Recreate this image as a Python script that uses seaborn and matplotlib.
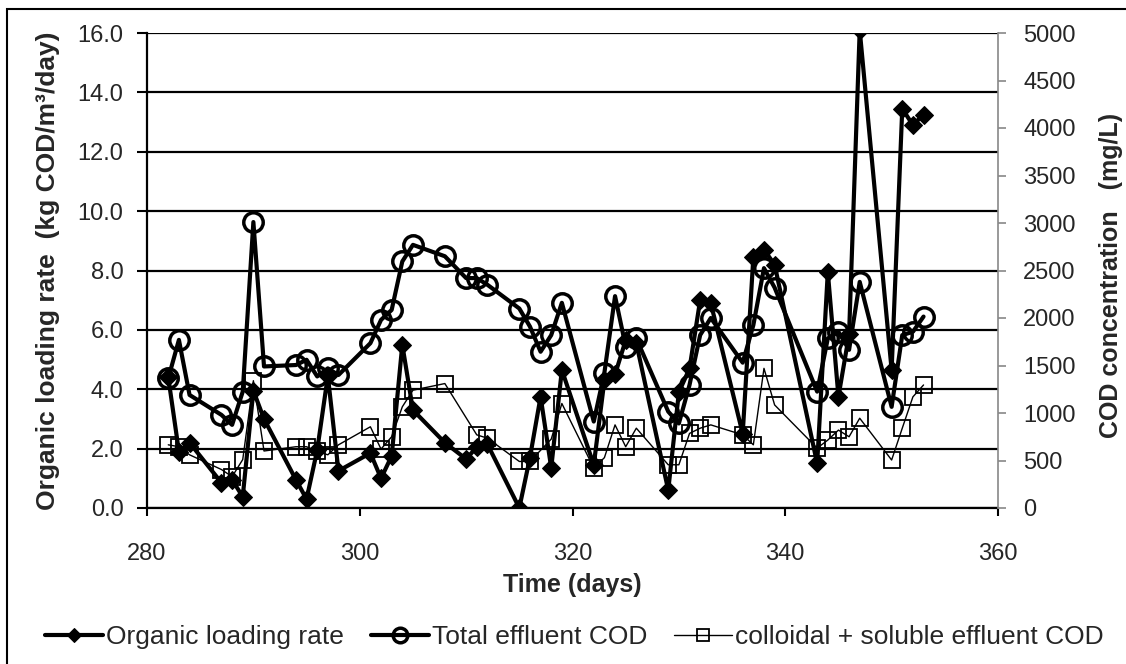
import matplotlib
matplotlib.use('Agg')
import matplotlib.pyplot as plt
import seaborn as sns
from matplotlib.patches import Rectangle

# data
days = [282, 283, 284, 287, 288, 289, 290, 291, 294, 295, 296, 297, 298, 301, 302,
        303, 304, 305, 308, 310, 311, 312, 315, 316, 317, 318, 319, 322, 323, 324,
        325, 326, 329, 330, 331, 332, 333, 336, 337, 338, 339, 343, 344, 345, 346,
        347, 350, 351, 352, 353]
olr = [4.4, 1.9, 2.2, 0.85, 0.95, 0.38, 3.95, 3.0, 0.95, 0.3, 1.95, 4.45, 1.25, 1.85, 1.0,
       1.75, 5.5, 3.3, 2.2, 1.65, 2.05, 2.15, 0.0, 1.7, 3.75, 1.35, 4.65, 1.45, 4.3, 4.5,
       5.65, 5.55, 0.6, 3.9, 4.7, 7.0, 6.9, 2.5, 8.45, 8.7, 8.2, 1.5, 7.95, 3.75, 5.85,
       16.1, 4.65, 13.45, 12.9, 13.25]
total_cod = [1365, 1770, 1190, 980, 875, 1225, 3010, 1490, 1505, 1560, 1385, 1470, 1400, 1735, 1980,
             2085, 2595, 2770, 2650, 2420, 2420, 2350, 2100, 1910, 1645, 1820, 2160, 910, 1425, 2230,
             1700, 1785, 1015, 890, 1295, 1820, 2000, 1530, 1925, 2525, 2320, 1225, 1785, 1855, 1665,
             2380, 1065, 1820, 1855, 2015]

sol_days = [282, 283, 284, 287, 288, 289, 290, 291, 294, 295, 296, 297, 298, 301, 302, 303,
            304, 305, 308, 311, 312, 315, 316, 318, 319, 322, 323, 324, 325, 326, 329, 330,
            331, 332, 333, 336, 337, 338, 339, 343, 344, 345, 346, 347, 350, 351, 352, 353]
sol_cod = [665, 645, 560, 405, 330, 510, 1340, 600, 645, 645, 595, 560, 665, 855, 620, 750,
           1065, 1240, 1310, 770, 735, 490, 490, 725, 1100, 420, 530, 875, 645, 840, 455, 455,
           785, 840, 875, 770, 665, 1470, 1085, 630, 715, 820, 750, 945, 505, 840, 1170, 1295]

left_ticks = [0, 2, 4, 6, 8, 10, 12, 14, 16]
right_ticks = [0, 500, 1000, 1500, 2000, 2500, 3000, 3500, 4000, 4500, 5000]
x_ticks = [280, 300, 320, 340, 360]

sns.set_style('white')
plt.rcParams['font.family'] = ['Liberation Sans', 'DejaVu Sans']

fig = plt.figure(figsize=(11.26, 6.64), dpi=100)
ax1 = fig.add_axes([147 / 1126, 1 - 508 / 664, 851 / 1126, 475 / 664])
ax2 = ax1.twinx()

sns.lineplot(x=days, y=olr, ax=ax1, color='black', lw=3, marker='D', markersize=9.5,
             mec='black', mfc='black', label='Organic loading rate')
sns.lineplot(x=days, y=total_cod, ax=ax2, color='black', lw=3, marker='o', markersize=14,
             mec='black', mfc='none', mew=2.5, label='Total effluent COD')
sns.lineplot(x=sol_days, y=sol_cod, ax=ax2, color='black', lw=1, marker='s', markersize=11,
             mec='black', mfc='none', mew=1.3, label='colloidal + soluble effluent COD')

ax1.set_xlim(280, 360)
ax1.set_ylim(0, 16)
ax2.set_ylim(0, 5000)
ax1.set_xticks(x_ticks)
ax1.set_yticks(left_ticks)
ax1.set_yticklabels([f'{v:.1f}' for v in left_ticks])
ax2.set_yticks(right_ticks)

ax1.yaxis.grid(True, color='black', lw=1.6)
ax1.set_axisbelow(True)

ax1.spines['top'].set_visible(False)
ax2.spines['top'].set_visible(False)
ax2.spines['left'].set_visible(False)
ax2.spines['bottom'].set_visible(False)
ax1.spines['right'].set_visible(False)
ax1.spines['left'].set_color('black')
ax1.spines['left'].set_linewidth(1.6)
ax1.spines['bottom'].set_color('black')
ax1.spines['bottom'].set_linewidth(1.6)
ax2.spines['right'].set_color('#888888')
ax2.spines['right'].set_linewidth(1.2)

ax1.tick_params(axis='y', direction='out', length=7, width=1.5, color='black',
                labelsize=17, left=True, pad=10)
ax1.tick_params(axis='x', direction='out', length=6, width=1.5, color='black',
                labelsize=17, bottom=True, pad=19)
ax2.tick_params(axis='y', direction='out', length=6, width=1.2, color='#888888',
                labelsize=17, right=True, pad=12)

ax1.set_xlabel('Time (days)', fontsize=18, fontweight='bold')
ax1.set_ylabel('Organic loading rate  (kg COD/m³/day)', fontsize=19, fontweight='bold')
ax2.set_ylabel('COD concentration   (mg/L)', fontsize=18, fontweight='bold')
ax1.xaxis.set_label_coords(0.5, -0.137)
ax1.yaxis.set_label_coords(-0.102, 0.5)
ax2.yaxis.set_label_coords(1.119, 0.49)

h1, l1 = ax1.get_legend_handles_labels()
h2, l2 = ax2.get_legend_handles_labels()
ax1.get_legend().remove()
ax2.get_legend().remove()
fig.legend(h1 + h2, l1 + l2, loc='center', bbox_to_anchor=(0.51, 1 - 637 / 664),
           ncol=3, frameon=False, fontsize=19, handlelength=2.2, handletextpad=0.12,
           columnspacing=1.0, markerscale=0.75, borderpad=0)

fig.patches.append(Rectangle((7 / 1126, -0.02), 1.05, 1 - 8.5 / 664 + 0.02,
                             transform=fig.transFigure, fill=False, ec='black', lw=1.5))

fig.savefig('out.png', dpi=100)
